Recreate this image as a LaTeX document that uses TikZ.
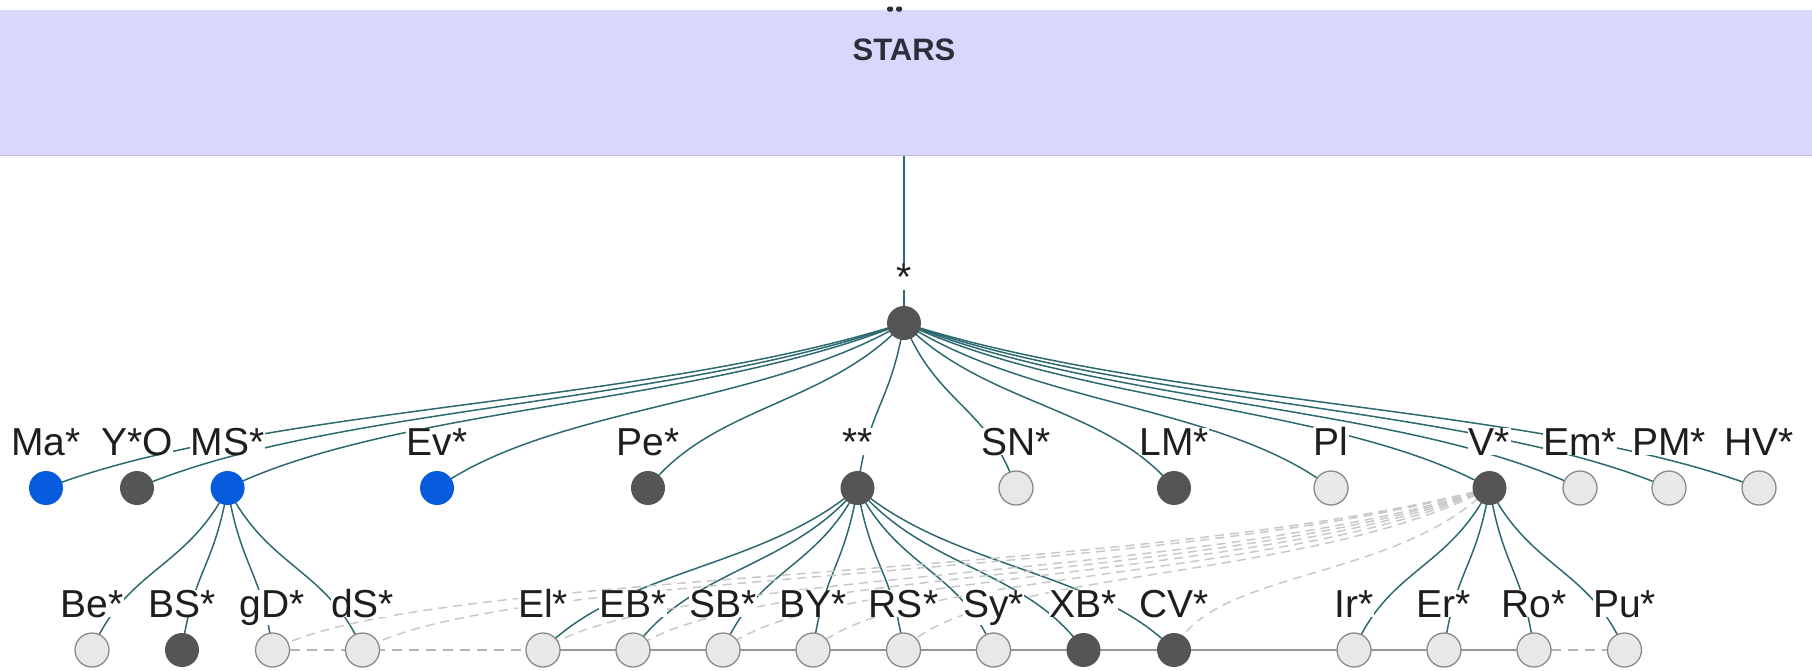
\documentclass[tikz,border=0pt]{standalone}
\usepackage{fontspec}
\setmainfont{Liberation Sans}
\usetikzlibrary{calc}

\pgfdeclarelayer{edges}
\pgfsetlayers{edges,main}

\definecolor{bandfill}{RGB}{217,216,252}
\definecolor{bandline}{RGB}{186,185,218}
\definecolor{titletext}{RGB}{46,46,58}
\definecolor{edgeteal}{RGB}{45,106,112}
\definecolor{crossgray}{RGB}{200,200,200}
\definecolor{rowgray}{RGB}{150,150,150}
\definecolor{nodeblue}{RGB}{6,90,220}
\definecolor{nodedark}{RGB}{85,85,85}
\definecolor{nodepale}{RGB}{232,232,232}
\definecolor{nodeline}{RGB}{138,138,138}
\definecolor{labeltext}{RGB}{30,30,30}

\tikzset{
  dot/.style={circle, minimum size=34pt, inner sep=0pt},
  bluedot/.style={dot, fill=nodeblue},
  darkdot/.style={dot, fill=nodedark},
  paledot/.style={dot, fill=nodepale, draw=nodeline, line width=1.3pt},
  lbl/.style={font=\fontsize{39}{42}\selectfont, text=labeltext, anchor=base,
              fill=white, inner xsep=0.5pt, inner ysep=0pt},
  treeedge/.style={draw=edgeteal, line width=1.5pt},
  crossedge/.style={draw=crossgray, line width=1.5pt, dash pattern=on 9pt off 6pt},
  rowsolid/.style={draw=rowgray, line width=1.5pt},
  rowdashed/.style={draw=crossgray!90!black, line width=1.5pt, dash pattern=on 10pt off 7pt},
}

% a taxon: circle plus its label set 33 units above the centre
\newcommand\taxon[5]{%
  \node[#4] (#1) at (#2,#3) {};
  \node[lbl] (#1-l) at (#2,#3-33) {#5};}

% parent-to-child link, a soft S-curve between the two centres
\newcommand\treelink[2]{%
  \begin{pgfonlayer}{edges}
  \path[treeedge] let \p1=($(#2.center)-(#1.center)$) in
    (#1.center) .. controls +({0.3*(\x1)},{0.5*(\y1)}) and +({-0.25*(\x1)},{-0.5*(\y1)}) .. (#2.center);
  \end{pgfonlayer}}

% dashed cross reference, running flat and dipping into its target
\newcommand\crosslink[2]{%
  \begin{pgfonlayer}{edges}
  \path[crossedge] let \p1=($(#2.center)-(#1.center)$) in
    (#1.center) .. controls +({0.3*(\x1)},{0.58*(\y1)}) and +({-0.12*(\x1)},{-0.5*(\y1)}) .. (#2.center);
  \end{pgfonlayer}}

\begin{document}
\begin{tikzpicture}[x=1pt,y=-1pt]
\useasboundingbox (0,0) rectangle (1812,670);

% header band
\begin{pgfonlayer}{edges}
\fill[bandfill] (0,10) rectangle (1812,155);
\draw[bandline, line width=1.5pt] (0,155.3) -- (1812,155.3);
\draw[bandfill!40!white, line width=1.5pt] (0,157.3) -- (1812,157.3);
\end{pgfonlayer}
% descender ends of a heading cut off above the band
\fill[titletext, rounded corners=1.5pt] (887,6.5) rectangle (893,11.5);
\fill[titletext, rounded corners=1.5pt] (896,6.5) rectangle (902,11.5);
\node[font=\bfseries\fontsize{31}{36}\selectfont, text=titletext, anchor=base] (title) at (904,60) {STARS};
\coordinate (bandfoot) at (904,156);

% root
\taxon{root}{904}{323}{darkdot}{*}
\begin{pgfonlayer}{edges}
\draw[treeedge] (bandfoot) -- (root.center);
\end{pgfonlayer}

% first level
\taxon{ma}{46}{488}{bluedot}{Ma*}
\taxon{yo}{137}{488}{darkdot}{Y*O}
\taxon{ms}{227.6}{488}{bluedot}{MS*}
\taxon{ev}{437}{488}{bluedot}{Ev*}
\taxon{pe}{648}{488}{darkdot}{Pe*}
\taxon{ss}{857.5}{488}{darkdot}{**}
\taxon{sn}{1016}{488}{paledot}{SN*}
\taxon{lm}{1174}{488}{darkdot}{LM*}
\taxon{pl}{1331}{488}{paledot}{Pl}
\taxon{v}{1489.5}{488}{darkdot}{V*}
\taxon{em}{1580}{488}{paledot}{Em*}
\taxon{pm}{1669}{488}{paledot}{PM*}
\taxon{hv}{1759}{488}{paledot}{HV*}

% second level
\taxon{be}{92}{650}{paledot}{Be*}
\taxon{bs}{182}{650}{darkdot}{BS*}
\taxon{gd}{272.5}{650}{paledot}{gD*}
\taxon{ds}{362.5}{650}{paledot}{dS*}
\taxon{el}{543}{650}{paledot}{El*}
\taxon{eb}{633}{650}{paledot}{EB*}
\taxon{sb}{723}{650}{paledot}{SB*}
\taxon{by}{813}{650}{paledot}{BY*}
\taxon{rs}{903.5}{650}{paledot}{RS*}
\taxon{sy}{993.5}{650}{paledot}{Sy*}
\taxon{xb}{1083.5}{650}{darkdot}{XB*}
\taxon{cv}{1174}{650}{darkdot}{CV*}
\taxon{ir}{1354}{650}{paledot}{Ir*}
\taxon{er}{1444}{650}{paledot}{Er*}
\taxon{ro}{1534}{650}{paledot}{Ro*}
\taxon{pu}{1624.5}{650}{paledot}{Pu*}

% hierarchy links
\foreach \c in {ma,yo,ms,ev,pe,ss,sn,lm,pl,v,em,pm,hv} {\treelink{root}{\c}}
\foreach \c in {be,bs,gd,ds} {\treelink{ms}{\c}}
\foreach \c in {el,eb,sb,by,rs,sy,xb,cv} {\treelink{ss}{\c}}
\foreach \c in {ir,er,ro,pu} {\treelink{v}{\c}}

% dashed cross references from V*
\foreach \c in {gd,ds,el,eb,sb,by,rs,cv} {\crosslink{v}{\c}}

% sequence along the bottom row
\begin{pgfonlayer}{edges}
\draw[rowdashed] (gd.center) -- (ds.center) -- (el.center);
\draw[rowsolid] (el.center) -- (eb.center) -- (sb.center) -- (by.center) -- (rs.center) -- (sy.center) -- (xb.center) -- (cv.center) -- (ir.center) -- (er.center) -- (ro.center);
\draw[rowdashed] (ro.center) -- (pu.center);
\end{pgfonlayer}
\end{tikzpicture}
\end{document}
